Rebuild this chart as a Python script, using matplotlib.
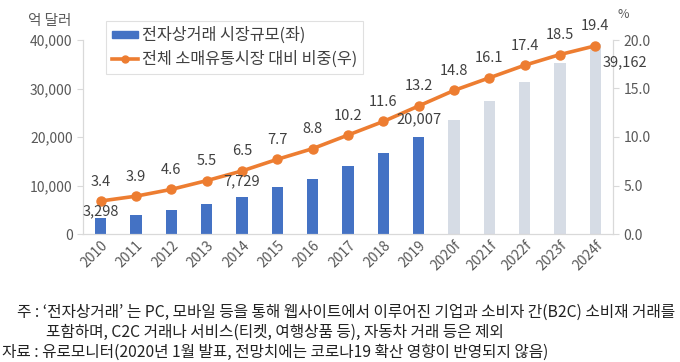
import matplotlib
matplotlib.use("Agg")
import matplotlib.pyplot as plt
from matplotlib.patches import Patch
from matplotlib.lines import Line2D

plt.rcParams['font.family'] = ['Noto Sans CJK KR', 'DejaVu Sans']

years = ['2010', '2011', '2012', '2013', '2014', '2015', '2016', '2017', '2018', '2019',
         '2020f', '2021f', '2022f', '2023f', '2024f']
market = [3298, 4000, 4900, 6200, 7729, 9600, 11300, 14100, 16700, 20007,
          23600, 27400, 31300, 35300, 39162]
share = [3.4, 3.9, 4.6, 5.5, 6.5, 7.7, 8.8, 10.2, 11.6, 13.2, 14.8, 16.1, 17.4, 18.5, 19.4]
forecast = [False] * 10 + [True] * 5
bar_labels = {0: '3,298', 4: '7,729', 9: '20,007', 14: '39,162'}
yl_ticks = [0, 10000, 20000, 30000, 40000]
yr_ticks = [0, 5, 10, 15, 20]

BLUE = '#4472C4'
LIGHT = '#D6DCE5'
ORANGE = '#ED7D31'
TXT = '#404040'
TICK = '#595959'

fig = plt.figure(figsize=(6.8, 3.62), dpi=100)
ax = fig.add_axes([83/680, 1-234/362, 530/680, 194/362])
ax2 = ax.twinx()

x = list(range(len(years)))
colors = [LIGHT if f else BLUE for f in forecast]
ax.bar(x, market, width=0.32, color=colors, zorder=2)
ax.set_ylim(0, 40000)
ax.set_xlim(-0.5, len(years) - 0.5)
ax.set_yticks(yl_ticks)
ax.set_yticklabels([f'{v:,}' for v in yl_ticks])
ax.set_xticks(x)
ax.set_xticklabels(years, rotation=45, ha='right', rotation_mode='anchor')

ax2.plot(x, share, color=ORANGE, lw=2.6, marker='o', ms=6.5, zorder=3)
ax2.set_ylim(0, 20)
ax2.set_yticks(yr_ticks)
ax2.set_yticklabels([f'{v:.1f}' for v in yr_ticks])

for a in (ax, ax2):
    a.spines['top'].set_visible(False)
    a.spines['left'].set_color('#D9D9D9')
    a.spines['right'].set_color('#D9D9D9')
    a.spines['bottom'].set_color('#D9D9D9')
    a.tick_params(axis='y', colors='#D9D9D9', labelcolor=TICK, labelsize=10, length=4)
ax.tick_params(axis='x', length=0, labelcolor=TICK, labelsize=10, pad=3)
ax.set_zorder(1)
ax2.set_zorder(2)
ax.patch.set_visible(False)

for i, v in enumerate(share):
    ax2.annotate(f'{v}', (i, v), xytext=(0, 9), textcoords='offset points',
                 ha='center', va='bottom', fontsize=10.5, color=TXT)

offsets = {0: (0, 0, 'bottom'), 4: (0, 6, 'bottom'), 9: (0, 8, 'bottom'), 14: (21, -13, 'center')}
for i, lab in bar_labels.items():
    dx, dy, va = offsets[i]
    ax2.annotate(lab, xy=(i, market[i]), xycoords=ax.transData,
                 xytext=(dx, dy), textcoords='offset points',
                 ha='center', va=va, fontsize=10.5, color=TXT, zorder=5)

handles = [Patch(color=BLUE),
           Line2D([], [], color=ORANGE, lw=2.6, marker='o', ms=5)]
leg = fig.legend(handles, ['전자상거래 시장규모(좌)', '전체 소매유통시장 대비 비중(우)'],
                 loc='upper left', bbox_to_anchor=(98/680, 1-13/362),
                 fontsize=11.7, frameon=True, fancybox=False, edgecolor='#D9D9D9',
                 handlelength=1.6, handleheight=0.3, labelspacing=0.42,
                 borderpad=0.35, handletextpad=0.25, labelcolor=TXT)
leg.get_frame().set_linewidth(0.8)

fig.text(50/680, 1-21/362, '억 달러', ha='center', va='center', fontsize=10.5, color=TICK)
fig.text(617/680, 1-14/362, '%', ha='left', va='center', fontsize=9, color=TICK)

note_fs = 11.3
fig.text(17/680, 1-312/362, "주 : ‘전자상거래’ 는 PC, 모바일 등을 통해 웹사이트에서 이루어진 기업과 소비자 간(B2C) 소비재 거래를",
         ha='left', va='center', fontsize=note_fs, color='#222222')
fig.text(46/680, 1-332/362, "포함하며, C2C 거래나 서비스(티켓, 여행상품 등), 자동차 거래 등은 제외",
         ha='left', va='center', fontsize=note_fs, color='#222222')
fig.text(2/680, 1-352/362, "자료 : 유로모니터(2020년 1월 발표, 전망치에는 코로나19 확산 영향이 반영되지 않음)",
         ha='left', va='center', fontsize=note_fs, color='#222222')

fig.savefig('out.png', dpi=100)
